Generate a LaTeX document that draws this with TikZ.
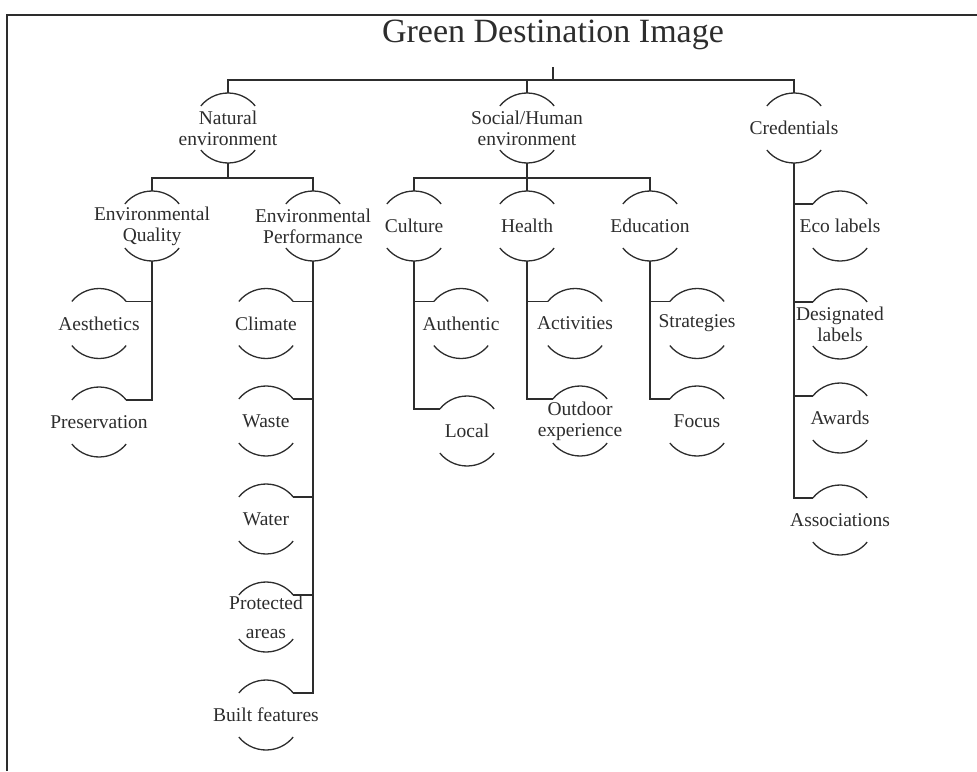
\documentclass[tikz,border=0pt]{standalone}
\usepackage{fontspec}
\setmainfont{Liberation Serif}
\definecolor{ink}{RGB}{45,45,45}
\begin{document}
\begin{tikzpicture}[x=1pt,y=1pt,
  lbl/.style={inner sep=0pt, align=center, font=\fontsize{19.5}{21}\selectfont, text=ink},
  link/.style={draw=ink, line width=1.5pt},
  capline/.style={draw=ink, line width=1.3pt}]
\useasboundingbox (0,0) rectangle (977,-771);
\draw[line width=2pt, ink] (7,-771) -- (7,-15) -- (977,-15);

\node[font=\fontsize{34}{36}\selectfont, text=ink, inner sep=0pt] (title) at (553,-35) {Green Destination Image};
\coordinate (tj) at (553,-67);

% level 1
\node[lbl] (nat) at (228,-128) {Natural\\environment};
\node[lbl] (soc) at (527,-128) {Social/Human\\environment};
\node[lbl] (cred) at (794,-128) {Credentials};

% level 2
\node[lbl] (eq) at (152,-226) {Environmental\\Quality};
\node[lbl] (ep) at (313,-226) {Environmental\\Performance};
\node[lbl] (cul) at (414,-226) {Culture};
\node[lbl] (hea) at (527,-226) {Health};
\node[lbl] (edu) at (650,-226) {Education};
\node[lbl] (eco) at (840,-226) {Eco labels};

% level 3
\node[lbl] (aes) at (99,-323.5) {Aesthetics};
\node[lbl] (pres) at (99,-422) {Preservation};
\node[lbl] (clim) at (266,-323.5) {Climate};
\node[lbl] (waste) at (266,-421) {Waste};
\node[lbl] (water) at (266,-519) {Water};
\node[lbl] (prot) at (266,-617) {Protected\\[8pt]areas};
\node[lbl] (built) at (266,-715) {Built features};
\node[lbl] (auth) at (461,-323.5) {Authentic};
\node[lbl] (local) at (467,-431) {Local};
\node[lbl] (act) at (575,-323.5) {Activities};
\node[lbl] (outd) at (580,-421) {Outdoor\\experience};
\node[lbl] (strat) at (697,-323.5) {Strategies};
\node[lbl] (focus) at (697,-421) {Focus};
\node[lbl] (desig) at (840,-324) {Designated\\labels};
\node[lbl] (awards) at (840,-418) {Awards};
\node[lbl] (assoc) at (840,-520) {Associations};

% caps
\foreach \n in {nat,soc,cred,eq,ep,cul,hea,edu,eco,aes,pres,clim,waste,water,prot,built,auth,local,act,outd,strat,focus,desig,awards,assoc}{
  \draw[capline] ([shift={(141:35)}]\n.center) arc[start angle=141,end angle=39,radius=35];
  \draw[capline] ([shift={(-141:35)}]\n.center) arc[start angle=-141,end angle=-39,radius=35];
}

% top bus
\draw[link] (tj) -- ++(0,-13);
\draw[link] ([yshift=35pt]nat.center) -- ++(0,13) -| ([yshift=35pt]cred.center);
\draw[link] ([yshift=35pt]soc.center) -- ++(0,13);

% level 2 buses
\draw[link] ([yshift=-35pt]nat.center) -- ++(0,-15) -| ([yshift=35pt]eq.center);
\draw[link] ([yshift=-35pt]nat.center) -- ++(0,-15) -| ([yshift=35pt]ep.center);
\draw[link] ([yshift=-35pt]soc.center) -- ++(0,-15) -| ([yshift=35pt]cul.center);
\draw[link] ([yshift=-35pt]soc.center) -- ++(0,-15) -| ([yshift=35pt]hea.center);
\draw[link] ([yshift=-35pt]soc.center) -- ++(0,-15) -| ([yshift=35pt]edu.center);

% children on the left of their line
\foreach \c/\p in {aes/eq,pres/eq,clim/ep,waste/ep,water/ep,prot/ep,built/ep}{
  \draw[link] ([shift={(39:35)}]\c.center) -| ([yshift=-35pt]\p.center);
}
% children on the right of their line
\foreach \c/\p in {auth/cul,local/cul,act/hea,outd/hea,strat/edu,focus/edu,eco/cred,desig/cred,awards/cred,assoc/cred}{
  \draw[link] ([shift={(141:35)}]\c.center) -| ([yshift=-35pt]\p.center);
}
\end{tikzpicture}
\end{document}
